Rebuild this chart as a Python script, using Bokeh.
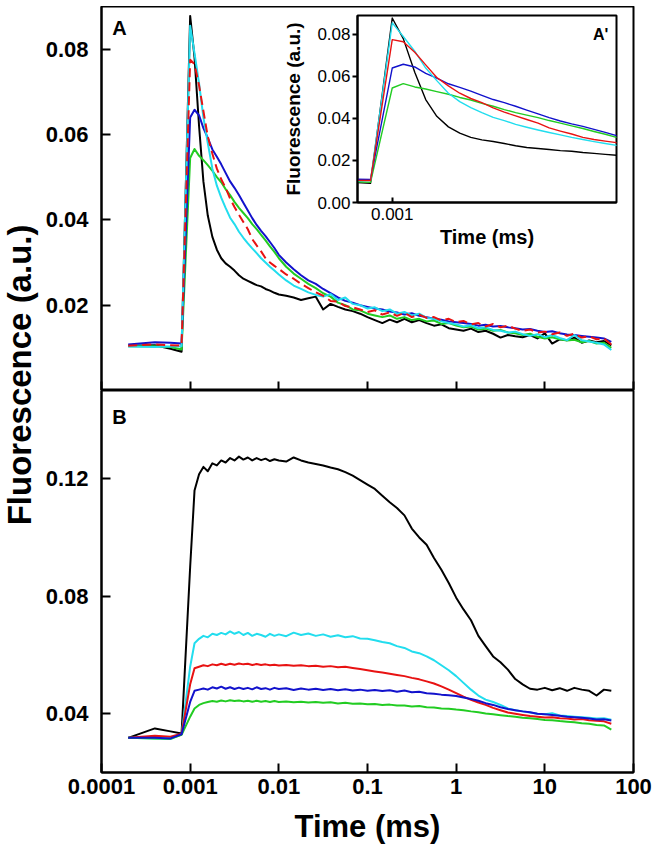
from math import pi
from bokeh.plotting import figure
from bokeh.models import Range1d, FixedTicker, NumeralTickFormatter, Label, GridBox
from bokeh.embed import file_html
from bokeh.resources import INLINE

FONT = "Liberation Sans"

# ---------------- data (time in ms) ----------------
T = [0.0002, 0.0004, 0.0006, 0.0008,
     0.001, 0.00112, 0.00126, 0.00141, 0.00158, 0.00178, 0.002, 0.00224, 0.00251, 0.00282,
     0.00316, 0.00355, 0.00398, 0.00447, 0.00501, 0.00562, 0.00631, 0.00708, 0.00794, 0.00891, 0.01,
     0.0121, 0.0147, 0.0178, 0.0215, 0.0261, 0.0316, 0.0383, 0.0464, 0.0562, 0.0681, 0.0825,
     0.1, 0.121, 0.147, 0.178, 0.215, 0.261, 0.316, 0.383, 0.464, 0.562, 0.681, 0.825,
     1.0, 1.21, 1.47, 1.78, 2.15, 2.61, 3.16, 3.83, 4.64, 5.62, 6.81, 8.25,
     10.0, 12.1, 14.7, 17.8, 21.5, 26.1, 31.6, 38.3, 46.4, 56.2]

# Panel A (and inset A')
A_black = [0.0105, 0.0106, 0.0098, 0.0091,
           0.0878, 0.0780, 0.0620, 0.0490, 0.0410, 0.0360, 0.0330, 0.0310, 0.0298, 0.0290, 0.0281, 0.0270, 0.0262, 0.0257, 0.0252, 0.0247, 0.0244, 0.0238, 0.0234, 0.0229, 0.0225,
           0.0222, 0.0218, 0.0212, 0.0216, 0.0220, 0.0190, 0.0203, 0.0196, 0.0190, 0.0186, 0.0180,
           0.0172, 0.0165, 0.0158, 0.0166, 0.0160, 0.0168, 0.0160, 0.0165, 0.0158, 0.0152, 0.0155, 0.0146,
           0.0143, 0.0140, 0.0145, 0.0137, 0.0140, 0.0133, 0.0124, 0.0130, 0.0127, 0.0125, 0.0130, 0.0122,
           0.0134, 0.0110, 0.0120, 0.0118, 0.0124, 0.0112, 0.0117, 0.0113, 0.0116, 0.0106]
A_cyan = [0.0103, 0.0102, 0.0103, 0.0104,
          0.0855, 0.0790, 0.0720, 0.0640, 0.0580, 0.0520, 0.0480, 0.0452, 0.0428, 0.0405, 0.0390, 0.0372, 0.0358, 0.0345, 0.0333, 0.0322, 0.0310, 0.0300, 0.0290, 0.0281, 0.0272,
          0.0258, 0.0246, 0.0238, 0.0230, 0.0224, 0.0220, 0.0226, 0.0212, 0.0218, 0.0203, 0.0200,
          0.0192, 0.0195, 0.0186, 0.0190, 0.0180, 0.0184, 0.0176, 0.0180, 0.0170, 0.0168, 0.0162, 0.0158,
          0.0155, 0.0150, 0.0153, 0.0146, 0.0148, 0.0142, 0.0140, 0.0136, 0.0138, 0.0132, 0.0128, 0.0132,
          0.0125, 0.0130, 0.0123, 0.0118, 0.0130, 0.0118, 0.0115, 0.0112, 0.0108, 0.0095]
A_red = [0.0105, 0.0108, 0.0106, 0.0105,
         0.0775, 0.0765, 0.0715, 0.0655, 0.0595, 0.0555, 0.0520, 0.0495, 0.0475, 0.0450, 0.0430, 0.0412, 0.0395, 0.0378, 0.0355, 0.0340, 0.0326, 0.0310, 0.0300, 0.0292, 0.0285,
         0.0272, 0.0262, 0.0250, 0.0240, 0.0230, 0.0222, 0.0210, 0.0208, 0.0198, 0.0195, 0.0190,
         0.0184, 0.0188, 0.0178, 0.0183, 0.0175, 0.0182, 0.0172, 0.0178, 0.0170, 0.0172, 0.0164, 0.0168,
         0.0160, 0.0163, 0.0155, 0.0158, 0.0150, 0.0156, 0.0148, 0.0152, 0.0145, 0.0140, 0.0143, 0.0136,
         0.0138, 0.0132, 0.0136, 0.0128, 0.0133, 0.0124, 0.0127, 0.0120, 0.0122, 0.0108]
A_blue = [0.0108, 0.0113, 0.0112, 0.0110,
          0.0640, 0.0658, 0.0645, 0.0615, 0.0592, 0.0565, 0.0548, 0.0530, 0.0510, 0.0490, 0.0475, 0.0458, 0.0440, 0.0422, 0.0404, 0.0388, 0.0374, 0.0362, 0.0348, 0.0334, 0.0318,
          0.0300, 0.0284, 0.0270, 0.0258, 0.0250, 0.0238, 0.0228, 0.0218, 0.0210, 0.0206, 0.0200,
          0.0196, 0.0192, 0.0190, 0.0185, 0.0183, 0.0178, 0.0181, 0.0175, 0.0172, 0.0168, 0.0166, 0.0162,
          0.0160, 0.0158, 0.0156, 0.0152, 0.0154, 0.0150, 0.0151, 0.0148, 0.0146, 0.0143, 0.0144, 0.0140,
          0.0137, 0.0139, 0.0134, 0.0131, 0.0130, 0.0128, 0.0126, 0.0124, 0.0122, 0.0114]
A_green = [0.0104, 0.0104, 0.0102, 0.0096,
           0.0545, 0.0566, 0.0550, 0.0540, 0.0528, 0.0515, 0.0500, 0.0488, 0.0472, 0.0458, 0.0442, 0.0428, 0.0416, 0.0404, 0.0390, 0.0378, 0.0365, 0.0352, 0.0338, 0.0325, 0.0310,
           0.0290, 0.0274, 0.0262, 0.0250, 0.0240, 0.0228, 0.0220, 0.0206, 0.0200, 0.0190, 0.0188,
           0.0180, 0.0176, 0.0172, 0.0176, 0.0168, 0.0172, 0.0165, 0.0168, 0.0162, 0.0164, 0.0156, 0.0158,
           0.0152, 0.0148, 0.0150, 0.0143, 0.0145, 0.0140, 0.0142, 0.0136, 0.0134, 0.0130, 0.0133, 0.0126,
           0.0122, 0.0125, 0.0120, 0.0117, 0.0119, 0.0113, 0.0116, 0.0110, 0.0112, 0.0100]

# Panel B
B_black = [0.0318, 0.0350, 0.0340, 0.0333,
           0.0900, 0.1160, 0.1215, 0.1240, 0.1225, 0.1252, 0.1245, 0.1262, 0.1255, 0.1270, 0.1262, 0.1275, 0.1265, 0.1272, 0.1262, 0.1270, 0.1263, 0.1268, 0.1260, 0.1266, 0.1262,
           0.1258, 0.1272, 0.1262, 0.1255, 0.1250, 0.1245, 0.1238, 0.1232, 0.1222, 0.1210, 0.1195,
           0.1180, 0.1165, 0.1142, 0.1120, 0.1100, 0.1075, 0.1030, 0.1000, 0.0975, 0.0930, 0.0890, 0.0845,
           0.0795, 0.0755, 0.0718, 0.0665, 0.0630, 0.0595, 0.0575, 0.0550, 0.0518, 0.0500, 0.0485, 0.0482,
           0.0488, 0.0480, 0.0487, 0.0478, 0.0488, 0.0482, 0.0478, 0.0462, 0.0482, 0.0478]
B_cyan = [0.0318, 0.0316, 0.0314, 0.0330,
          0.0560, 0.0640, 0.0655, 0.0665, 0.0660, 0.0672, 0.0668, 0.0675, 0.0670, 0.0680, 0.0672, 0.0678, 0.0668, 0.0675, 0.0665, 0.0672, 0.0668, 0.0662, 0.0672, 0.0665, 0.0670,
          0.0664, 0.0676, 0.0668, 0.0673, 0.0665, 0.0670, 0.0662, 0.0667, 0.0660, 0.0664, 0.0656,
          0.0655, 0.0650, 0.0644, 0.0640, 0.0630, 0.0624, 0.0612, 0.0606, 0.0595, 0.0582, 0.0565, 0.0548,
          0.0528, 0.0505, 0.0482, 0.0462, 0.0448, 0.0440, 0.0430, 0.0418, 0.0412, 0.0408, 0.0404, 0.0400,
          0.0398, 0.0402, 0.0394, 0.0392, 0.0390, 0.0388, 0.0386, 0.0384, 0.0385, 0.0380]
B_red = [0.0318, 0.0325, 0.0322, 0.0332,
         0.0500, 0.0555, 0.0560, 0.0565, 0.0562, 0.0568, 0.0565, 0.0570, 0.0566, 0.0570, 0.0567, 0.0571, 0.0568, 0.0570, 0.0566, 0.0569, 0.0566, 0.0568, 0.0565, 0.0567, 0.0564,
         0.0566, 0.0563, 0.0565, 0.0562, 0.0563, 0.0560, 0.0562, 0.0558, 0.0560, 0.0556, 0.0552,
         0.0548, 0.0544, 0.0540, 0.0536, 0.0532, 0.0528, 0.0522, 0.0517, 0.0510, 0.0503, 0.0493, 0.0482,
         0.0470, 0.0458, 0.0447, 0.0438, 0.0430, 0.0420, 0.0412, 0.0404, 0.0400, 0.0396, 0.0392, 0.0390,
         0.0387, 0.0388, 0.0385, 0.0384, 0.0380, 0.0382, 0.0378, 0.0376, 0.0374, 0.0366]
B_blue = [0.0318, 0.0318, 0.0316, 0.0330,
          0.0440, 0.0478, 0.0482, 0.0486, 0.0482, 0.0490, 0.0486, 0.0492, 0.0485, 0.0490, 0.0484, 0.0489, 0.0484, 0.0488, 0.0483, 0.0490, 0.0484, 0.0487, 0.0482, 0.0488, 0.0484,
          0.0487, 0.0481, 0.0486, 0.0482, 0.0485, 0.0481, 0.0484, 0.0480, 0.0483, 0.0479, 0.0482,
          0.0478, 0.0481, 0.0477, 0.0480, 0.0475, 0.0479, 0.0473, 0.0475, 0.0470, 0.0468, 0.0465, 0.0463,
          0.0460, 0.0455, 0.0450, 0.0444, 0.0436, 0.0430, 0.0422, 0.0416, 0.0412, 0.0408, 0.0405, 0.0400,
          0.0398, 0.0396, 0.0393, 0.0390, 0.0388, 0.0386, 0.0384, 0.0380, 0.0381, 0.0377]
B_green = [0.0318, 0.0316, 0.0315, 0.0328,
           0.0390, 0.0418, 0.0430, 0.0436, 0.0440, 0.0443, 0.0441, 0.0445, 0.0442, 0.0446, 0.0443, 0.0445, 0.0442, 0.0444, 0.0441, 0.0444, 0.0441, 0.0443, 0.0440, 0.0443, 0.0440,
           0.0442, 0.0439, 0.0441, 0.0438, 0.0440, 0.0437, 0.0439, 0.0435, 0.0437, 0.0434, 0.0435,
           0.0432, 0.0433, 0.0430, 0.0431, 0.0428, 0.0428, 0.0425, 0.0426, 0.0422, 0.0421, 0.0418, 0.0417,
           0.0414, 0.0412, 0.0408, 0.0405, 0.0401, 0.0398, 0.0395, 0.0392, 0.0390, 0.0386, 0.0385, 0.0382,
           0.0379, 0.0378, 0.0375, 0.0373, 0.0371, 0.0368, 0.0366, 0.0362, 0.0360, 0.0346]

X_TICKS = [0.0001, 0.001, 0.01, 0.1, 1, 10, 100]
A_Y_TICKS = [0.02, 0.04, 0.06, 0.08]
B_Y_TICKS = [0.04, 0.08, 0.12]
INSET_X_TICKS = [0.001]
INSET_Y_TICKS = [0.0, 0.02, 0.04, 0.06, 0.08]

for s in (A_black, A_cyan, A_red, A_blue, A_green, B_black, B_cyan, B_red, B_blue, B_green):
    assert len(s) == len(T), len(s)

COL = {"black": "#000000", "cyan": "#22DDEE", "red": "#E81212",
       "blue": "#1212CC", "green": "#22CC22"}


def base_fig(**kw):
    p = figure(output_backend="svg", toolbar_location=None, **kw)
    p.xgrid.visible = False
    p.ygrid.visible = False
    p.outline_line_color = "black"
    p.outline_line_width = 2
    p.background_fill_color = "white"
    return p


def style_axis(ax, size, style, tick_in, tick_out, standoff):
    ax.axis_line_width = 2
    ax.axis_line_color = "black"
    ax.major_tick_line_width = 2
    ax.major_tick_line_color = "black"
    ax.major_tick_in = tick_in
    ax.major_tick_out = tick_out
    ax.minor_tick_line_color = None
    ax.major_label_text_font = FONT
    ax.major_label_text_font_size = size
    ax.major_label_text_font_style = style
    ax.major_label_text_color = "black"
    ax.major_label_standoff = standoff


def axis_title(ax, text, size, standoff):
    ax.axis_label = text
    ax.axis_label_text_font = FONT
    ax.axis_label_text_font_size = size
    ax.axis_label_text_font_style = "bold"
    ax.axis_label_text_color = "black"
    ax.axis_label_standoff = standoff


def text_label(x, y, text, size, align="left", angle=0.0, baseline="top"):
    return Label(x=x, y=y, text=text, angle=angle, text_font=FONT, text_font_size=size,
                 text_font_style="bold", text_color="black",
                 text_baseline=baseline, text_align=align)


# ---------------- panel A ----------------
pA = base_fig(width=614, height=384, x_axis_type="log",
              x_range=Range1d(1e-4, 100), y_range=Range1d(0, 0.09),
              min_border_left=59, min_border_right=23, min_border_top=0, min_border_bottom=0)
pA.xaxis.ticker = FixedTicker(ticks=X_TICKS, minor_ticks=[])
style_axis(pA.xaxis[0], "1px", "bold", 9, 0, 0)
pA.xaxis.major_label_text_color = None
pA.yaxis.ticker = FixedTicker(ticks=A_Y_TICKS, minor_ticks=[])
pA.yaxis.formatter = NumeralTickFormatter(format="0.00")
style_axis(pA.yaxis[0], "22px", "bold", 9, 0, 13)

for ys, c, dash in [(A_black, "black", "solid"), (A_green, "green", "solid"),
                    (A_blue, "blue", "solid"), (A_cyan, "cyan", "solid"),
                    (A_red, "red", "9 5")]:
    pA.line(T, ys, line_color=COL[c], line_width=2, line_dash=dash, line_join="round")

pA.add_layout(text_label(1.32e-4, 0.0876, "A", "20px"))

# ---------------- inset A' ----------------
pI = base_fig(width=344, height=245, x_axis_type="log",
              x_range=Range1d(0.0007, 0.01), y_range=Range1d(0, 0.089),
              min_border_left=77, min_border_right=8, min_border_top=5, min_border_bottom=53)
pI.border_fill_color = None
pI.xaxis.ticker = FixedTicker(ticks=INSET_X_TICKS, minor_ticks=[])
pI.xaxis.formatter = NumeralTickFormatter(format="0.000")
style_axis(pI.xaxis[0], "17px", "normal", 5, 0, 5)
axis_title(pI.xaxis[0], "Time (ms)", "20px", 3)
pI.yaxis.ticker = FixedTicker(ticks=INSET_Y_TICKS, minor_ticks=[])
pI.yaxis.formatter = NumeralTickFormatter(format="0.00")
style_axis(pI.yaxis[0], "17px", "normal", 0, 5, 2)
axis_title(pI.yaxis[0], "Fluorescence (a.u.)", "19px", 10)

for ys, c in [(A_black, "black"), (A_green, "green"), (A_blue, "blue"),
              (A_cyan, "cyan"), (A_red, "red")]:
    pI.line(T, ys, line_color=COL[c], line_width=1.4, line_join="round")

pI.add_layout(text_label(0.0092, 0.0842, "A'", "16px", align="right"))

# ---------------- panel B ----------------
pB = base_fig(width=614, height=460, x_axis_type="log",
              x_range=Range1d(1e-4, 100), y_range=Range1d(0.02, 0.15),
              min_border_left=59, min_border_right=23, min_border_top=0, min_border_bottom=78)
pB.xaxis.ticker = FixedTicker(ticks=X_TICKS, minor_ticks=[])
pB.xaxis.formatter = NumeralTickFormatter(format="0.[0000]")
style_axis(pB.xaxis[0], "22px", "bold", 9, 0, 6)
axis_title(pB.xaxis[0], "Time (ms)", "31px", 12)
pB.yaxis.ticker = FixedTicker(ticks=B_Y_TICKS, minor_ticks=[])
pB.yaxis.formatter = NumeralTickFormatter(format="0.00")
style_axis(pB.yaxis[0], "22px", "bold", 9, 0, 13)

for ys, c in [(B_black, "black"), (B_cyan, "cyan"), (B_red, "red"),
              (B_green, "green"), (B_blue, "blue")]:
    pB.line(T, ys, line_color=COL[c], line_width=2, line_join="round")

pB.add_layout(text_label(1.32e-4, 0.1446, "B", "20px"))

# ---------------- shared y title ----------------
pT = figure(width=42, height=850, x_range=Range1d(0, 1), y_range=Range1d(0, 1),
            output_backend="svg", toolbar_location=None,
            x_axis_location=None, y_axis_location=None, min_border=0)
pT.outline_line_color = None
pT.xgrid.visible = False
pT.ygrid.visible = False
pT.add_layout(text_label(0.452, 0.515, "Fluorescence (a.u.)", "33px", align="center",
                         angle=pi / 2, baseline="middle"))

grid = GridBox(children=[(pT, 0, 0, 5, 1), (pA, 1, 1, 3, 3), (pI, 2, 2, 1, 1), (pB, 4, 1, 1, 3)],
               rows=["6px", "4px", "245px", "135px", "460px"],
               cols=["42px", "238px", "344px", "32px"], spacing=0)

open("out.html", "w").write(file_html(grid, INLINE))
